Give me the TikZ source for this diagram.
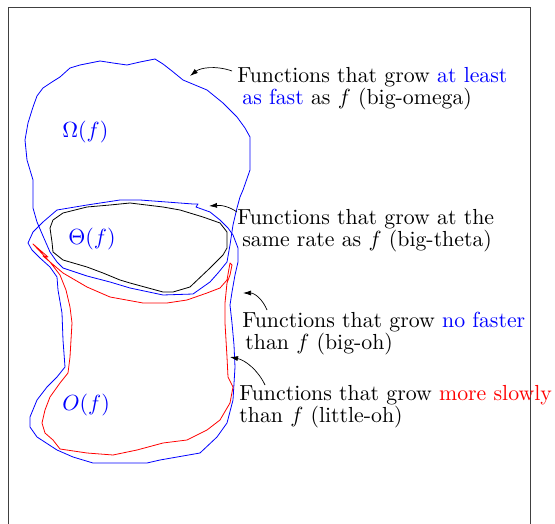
\documentclass[tikz,border=0pt]{standalone}
\usetikzlibrary{arrows.meta}
\begin{document}
\begin{tikzpicture}[x=1pt,y=-1pt,
  blob/.style={line width=0.8pt, line join=round},
  lbl/.style={font=\fontsize{10.9}{11}\selectfont, scale=2, transform shape, inner sep=0pt, anchor=base west, align=left, text=black},
  setlbl/.style={font=\fontsize{10.9}{11}\selectfont, scale=2, transform shape, inner sep=0pt, anchor=base west, text=blue},
  callout/.style={-{Latex[length=8pt,width=5pt]}, line width=0.7pt},
  frame/.style={line width=1pt, draw=black!75}]
\useasboundingbox (0,0) rectangle (555,524);

% frame
\draw[frame] (8,524) -- (8,7.5) -- (530,7.5) -- (530,524);

% big-omega
\draw[blob, blue] (155,59) -- (163,64) -- (172,71) -- (183,80) -- (195,85) -- (207,90) -- (223,103) -- (237,117)
  -- (245,128) -- (250,137) -- (250,155) -- (250,170) -- (243,190) -- (240,197) -- (237,208) -- (233,225)
  -- (230,245) -- (227,262) -- (218,273) -- (210,282) -- (193,294) -- (163,295) -- (130,288)
  -- (110,282) -- (87,276) -- (63,268) -- (57,262) -- (50,252) -- (43,236)
  -- (37,222) -- (33,208) -- (33,195) -- (33,180) -- (27,160) -- (25,140)
  -- (28,123) -- (33,107) -- (37,96) -- (43,88) -- (52,82) -- (60,77) -- (70,68) -- (80,65)
  -- (100,61) -- (113,63) -- (127,65) -- (140,62) -- cycle;

% big-oh
\draw[blob, blue] (28,243) -- (33,232) -- (43,222) -- (57,210) -- (87,205) -- (120,200)
  -- (140,200) -- (193,204) -- (198,204) -- (196,207) -- (210,212) -- (220,220)
  -- (228,228) -- (233,235) -- (238,248) -- (238,262) -- (235,275) -- (232,292)
  -- (230,305) -- (232,323) -- (234,345) -- (235,367) -- (233,400) -- (227,423) -- (217,437)
  -- (200,453) -- (160,460) -- (147,463) -- (130,463) -- (93,463) -- (73,457)
  -- (57,450) -- (37,437) -- (30,427) -- (30,417) -- (37,400) -- (47,387)
  -- (57,377) -- (65,367) -- (63,340) -- (62,313) -- (58,290) -- (57,277)
  -- (50,267) -- (40,258) -- (32,250) -- cycle;

% big-theta
\draw[blob, black] (50,228) -- (53,220) -- (63,213) -- (87,207) -- (110,205) -- (130,203)
  -- (163,207) -- (180,210) -- (203,217) -- (220,223) -- (227,232) -- (227,248)
  -- (223,255) -- (210,268) -- (190,287) -- (173,292) -- (163,292) -- (130,283)
  -- (120,280) -- (103,273) -- (87,267) -- (63,260) -- (53,252) -- (52,242) -- cycle;

% little-oh
\draw[blob, red] (33,244) -- (48,257) -- (43,256) -- (63,273) -- (87,287) -- (110,297)
  -- (143,303) -- (167,303) -- (187,300) -- (207,293) -- (220,288) -- (227,280)
  -- (230,263) -- (232,265) -- (230,275) -- (227,283) -- (225,303) -- (225,323)
  -- (227,357) -- (228,377) -- (233,387) -- (230,403) -- (220,420) -- (207,430)
  -- (187,440) -- (163,443) -- (137,450) -- (113,455) -- (87,453) -- (60,449)
  -- (53,440) -- (45,433) -- (42,423) -- (45,410) -- (50,397) -- (60,383)
  -- (68,373) -- (70,357) -- (72,323) -- (70,307) -- (66,290) -- (60,275)
  -- (50,262) -- cycle;

% set labels
\node[setlbl] (lomega) at (62,138) {$\Omega(f)$};
\node[setlbl] (ltheta) at (68,245) {$\Theta(f)$};
\node[setlbl] (lbigo) at (62,410) {$O(f)$};

% descriptions (anchored at the baseline of the last line)
\node[lbl] (tomega) at (237,105) {Functions that grow \textcolor{blue}{at least}\\\hspace*{2.5pt}\textcolor{blue}{as fast} as $f$ (big-omega)};
\node[lbl] (ttheta) at (237,247) {Functions that grow at the\\\hspace*{2.5pt}same rate as $f$ (big-theta)};
\node[lbl] (tbigo) at (242,349) {Functions that grow \textcolor{blue}{no faster}\\\hspace*{1.5pt}than $f$ (big-oh)};
\node[lbl] (tlittleo) at (239,422) {Functions that grow \textcolor{red}{more slowly}\\than $f$ (little-oh)};

% arrow ends
\coordinate (somega) at (232,71);
\coordinate (eomega) at (190,76);
\coordinate (stheta) at (237,212);
\coordinate (etheta) at (209,206);
\coordinate (sbigo) at (267,310);
\coordinate (ebigo) at (243,293);
\coordinate (slittleo) at (265,385);
\coordinate (elittleo) at (230,357);

\draw[callout] (somega) .. controls (215,65) and (200,68) .. (eomega);
\draw[callout] (stheta) .. controls (230,207) and (222,205) .. (etheta);
\draw[callout] (sbigo) .. controls (263,300) and (255,293) .. (ebigo);
\draw[callout] (slittleo) .. controls (258,370) and (245,360) .. (elittleo);
\end{tikzpicture}
\end{document}
